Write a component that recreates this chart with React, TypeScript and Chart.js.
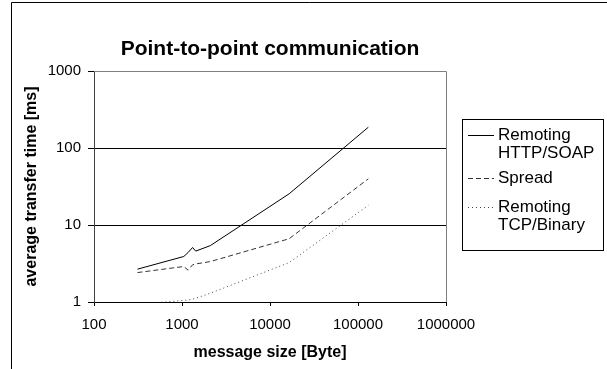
import React, { useEffect, useRef } from "react";
import { Chart, registerables } from "chart.js";

Chart.register(...registerables);

const TITLE = "Point-to-point communication";
const X_TITLE = "message size [Byte]";
const Y_TITLE = "average transfer time [ms]";

const messageSizes = [312, 1047, 1175, 1318, 1432, 2100, 16500, 131000];
const httpSoap = [2.67, 3.9, 4.4, 5.1, 4.58, 5.4, 25.4, 186];
const spread = [2.41, 2.89, 2.59, 3.04, 3.12, 3.35, 6.63, 39.8];
const tcpBinary = [0.93, 1.05, 1.06, 1.09, 1.12, 1.3, 3.25, 18];

const seriesNames = ["Remoting\nHTTP/SOAP", "Spread", "Remoting\nTCP/Binary"];
const xTicks = [100, 1000, 10000, 100000, 1000000];
const yTicks = [1, 10, 100, 1000];
const yGridValues = [10, 100];

const FONT = "'Liberation Sans', Arial, sans-serif";

const styles = [
  { color: "#000000", dash: [] as number[] },
  { color: "#333333", dash: [5, 3] },
  { color: "#444444", dash: [1, 3] },
];

const framePlugin = {
  id: "frame",
  beforeDatasetsDraw(chart: any) {
    const { ctx, chartArea } = chart;
    ctx.save();
    ctx.strokeStyle = "#808080";
    ctx.lineWidth = 1;
    ctx.beginPath();
    ctx.moveTo(chartArea.left, chartArea.top + 0.5);
    ctx.lineTo(chartArea.right + 0.5, chartArea.top + 0.5);
    ctx.lineTo(chartArea.right + 0.5, chartArea.bottom);
    ctx.stroke();
    ctx.restore();
  },
  afterDraw(chart: any) {
    const { ctx, chartArea } = chart;
    ctx.save();
    ctx.strokeStyle = "#000";
    ctx.lineWidth = 1;
    ctx.beginPath();
    ctx.moveTo(11.5, 369);
    ctx.lineTo(11.5, 2.5);
    ctx.lineTo(607, 2.5);
    ctx.stroke();
    ctx.fillStyle = "#000";
    ctx.font = `bold 21px ${FONT}`;
    ctx.textAlign = "center";
    ctx.textBaseline = "alphabetic";
    ctx.fillText(TITLE, (chartArea.left + chartArea.right) / 2, 55);
    const bx = 462.5, by = 119.5, bw = 141, bh = 131;
    ctx.strokeStyle = "#000";
    ctx.strokeRect(bx, by, bw, bh);
    ctx.font = `17px ${FONT}`;
    ctx.textAlign = "left";
    ctx.textBaseline = "middle";
    const entryTops = [135, 178, 207];
    const lineH = 18;
    chart.data.datasets.forEach((ds: any, i: number) => {
      const lines = String(seriesNames[i]).split("\n");
      const y0 = entryTops[i];
      ctx.save();
      ctx.strokeStyle = ds.borderColor;
      ctx.setLineDash(ds.borderDash || []);
      ctx.beginPath();
      ctx.moveTo(468, Math.round(y0) + 0.5);
      ctx.lineTo(494, Math.round(y0) + 0.5);
      ctx.stroke();
      ctx.restore();
      lines.forEach((t, j) => {
        ctx.fillText(t, 498, y0 + j * lineH);
      });
    });
    ctx.restore();
  },
};

export default function App() {
  const ref = useRef<HTMLCanvasElement | null>(null);
  useEffect(() => {
    document.body.style.margin = "0";
    const series = [httpSoap, spread, tcpBinary];
    const chart = new Chart(ref.current as HTMLCanvasElement, {
      type: "line",
      data: {
        datasets: series.map((vals, i) => ({
          label: seriesNames[i].replace("\n", " "),
          data: messageSizes.map((x, k) => ({ x, y: vals[k] })),
          borderColor: styles[i].color,
          borderDash: styles[i].dash,
          borderWidth: 1,
          pointRadius: 0,
          tension: 0,
          fill: false,
        })),
      },
      options: {
        animation: false,
        responsive: false,
        devicePixelRatio: 1,
        layout: { padding: { top: 71, right: 161, bottom: 0, left: 0 } },
        plugins: { legend: { display: false }, title: { display: false }, tooltip: { enabled: false } },
        scales: {
          x: {
            type: "logarithmic",
            min: 100,
            max: 1000000,
            afterBuildTicks: (s: any) => {
              s.ticks = xTicks.map((v) => ({ value: v }));
            },
            afterFit: (s: any) => {
              s.height = 67;
            },
            ticks: {
              autoSkip: false,
              maxRotation: 0,
              padding: 10,
              color: "#000",
              font: { family: FONT, size: 15 },
              callback: (v: any) => String(v),
            },
            grid: { color: "rgba(0,0,0,0)", tickColor: "#000", tickLength: 4, drawOnChartArea: false },
            border: { color: "#000", width: 1 },
            title: {
              display: true,
              text: X_TITLE,
              color: "#000",
              font: { family: FONT, size: 16, weight: "bold" },
              padding: { top: 0, bottom: 7 },
            },
          },
          y: {
            type: "logarithmic",
            min: 1,
            max: 1000,
            afterBuildTicks: (s: any) => {
              s.ticks = yTicks.map((v) => ({ value: v }));
            },
            afterFit: (s: any) => {
              s.width = 94;
            },
            ticks: {
              autoSkip: false,
              padding: 7,
              color: "#000",
              font: { family: FONT, size: 15 },
              callback: (v: any) => String(v),
            },
            grid: {
              color: (c: any) => (c.tick && yGridValues.includes(c.tick.value) ? "#000" : "rgba(0,0,0,0)"),
              tickColor: "#000",
              tickLength: 6,
            },
            border: { color: "#404040", width: 1 },
            title: {
              display: true,
              text: Y_TITLE,
              color: "#000",
              font: { family: FONT, size: 16, weight: "bold" },
              padding: { top: 22, bottom: 0 },
            },
          },
        },
      },
      plugins: [framePlugin],
    } as any);
    return () => chart.destroy();
  }, []);
  return (
    <div style={{ position: "absolute", left: 0, top: 0, width: 607, height: 369, background: "#fff" }}>
      <canvas ref={ref} width={607} height={369} style={{ width: 607, height: 369, display: "block" }} />
    </div>
  );
}
